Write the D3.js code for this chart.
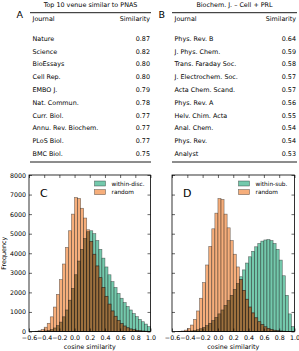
<!DOCTYPE html>
<html>
<head>
<meta charset="utf-8">
<script src="https://cdn.jsdelivr.net/npm/d3@7"></script>
<style>
  body { margin: 0; background: #fff; }
  svg { font-family: "DejaVu Sans", sans-serif; }
</style>
</head>
<body>
<svg id="chart" width="299" height="351"></svg>
<script>
// table A: venues similar to PNAS
const titleA = "Top 10 venue similar to PNAS";
const journalsA = ["Nature", "Science", "BioEssays", "Cell Rep.", "EMBO J.", "Nat. Commun.",
    "Curr. Biol.", "Annu. Rev. Biochem.", "PLoS Biol.", "BMC Biol."];
const simA = ["0.87", "0.82", "0.80", "0.80", "0.79", "0.78", "0.77", "0.77", "0.77", "0.75"];

// table B: analogy Biochem. J. - Cell + PRL
const titleB = "Biochem. J. \u2013 Cell + PRL";
const journalsB = ["Phys. Rev. B", "J. Phys. Chem.", "Trans. Faraday Soc.", "J. Electrochem. Soc.",
    "Acta Chem. Scand.", "Phys. Rev. A", "Helv. Chim. Acta", "Anal. Chem.", "Phys. Rev.", "Analyst"];
const simB = ["0.64", "0.59", "0.58", "0.57", "0.57", "0.56", "0.55", "0.54", "0.54", "0.53"];

// histogram bins (lower edges, width 0.04)
const binEdges = [-0.60, -0.56, -0.52, -0.48, -0.44, -0.40, -0.36, -0.32, -0.28, -0.24,
    -0.20, -0.16, -0.12, -0.08, -0.04, 0.00, 0.04, 0.08, 0.12, 0.16,
    0.20, 0.24, 0.28, 0.32, 0.36, 0.40, 0.44, 0.48, 0.52, 0.56,
    0.60, 0.64, 0.68, 0.72, 0.76, 0.80, 0.84, 0.88, 0.92, 0.96];
const binWidth = 0.04;

// panel C
const withinC = [0, 0, 2, 5, 10, 25, 50, 100, 180, 300,
    480, 750, 1100, 1600, 2200, 2900, 3600, 4200, 4750, 5100,
    5150, 5000, 4650, 4200, 3750, 3300, 2900, 2550, 2250, 1950,
    1700, 1480, 1280, 1100, 920, 760, 620, 500, 380, 250];
const randomC = [0, 5, 15, 40, 100, 220, 420, 750, 1250, 1900,
    2650, 3450, 4300, 5150, 6000, 6850, 6800, 6300, 5800, 5200,
    4600, 3950, 3350, 2750, 2250, 1800, 1400, 1050, 780, 560,
    400, 280, 190, 130, 90, 60, 40, 25, 15, 8];

// panel D
const withinD = [0, 0, 1, 3, 8, 15, 30, 55, 90, 140,
    210, 300, 420, 560, 720, 900, 1100, 1330, 1580, 1850,
    2150, 2450, 2800, 3150, 3500, 3820, 4100, 4330, 4500, 4620,
    4680, 4700, 4650, 4500, 4200, 3650, 2850, 1850, 900, 250];
const randomD = [0, 2, 8, 25, 70, 160, 330, 620, 1050, 1700,
    2500, 3400, 4350, 5250, 6050, 6800, 6750, 6000, 5300, 4650,
    3950, 3300, 2650, 2100, 1650, 1250, 950, 700, 500, 350,
    240, 160, 100, 65, 40, 25, 15, 8, 4, 2];

const xTicks = [-0.6, -0.4, -0.2, 0.0, 0.2, 0.4, 0.6, 0.8, 1.0];
const yTicks = [0, 1000, 2000, 3000, 4000, 5000, 6000, 7000, 8000];

const greenColor = "#5cbf9d";
const orangeColor = "#f4a064";
const overlapColor = "#6e4d1e"; // where the two translucent series stack

const svg = d3.select("#chart");

function drawTable(x0, x1, letter, title, journals, sims) {
    let g = svg.append("g");
    let y = d3.scalePoint().domain(journals).range([38.5, 153.7]);
    let fs = 6.4;

    g.append("text")
        .attr("x", (x0 + x1) / 2).attr("y", 4.8)
        .attr("dy", "0.35em")
        .attr("text-anchor", "middle")
        .attr("font-size", fs)
        .text(title);

    g.append("text")
        .attr("x", x0 - 13.5).attr("y", 15)
        .attr("dy", "0.35em")
        .attr("font-size", 9.5)
        .text(letter);

    g.append("line")
        .attr("x1", x0).attr("x2", x1)
        .attr("y1", 12.7).attr("y2", 12.7)
        .attr("stroke", "#000").attr("stroke-width", 0.9);

    g.append("text")
        .attr("x", x0 + 2.5).attr("y", 18.6)
        .attr("dy", "0.35em").attr("font-size", fs)
        .text("Journal");
    g.append("text")
        .attr("x", x1 - 1).attr("y", 18.6)
        .attr("dy", "0.35em").attr("font-size", fs)
        .attr("text-anchor", "end")
        .text("Similarity");

    g.selectAll("text.jn")
        .data(journals)
        .join("text")
        .attr("class", "jn")
        .attr("x", x0 + 2.5)
        .attr("y", d => y(d))
        .attr("dy", "0.35em")
        .attr("font-size", fs)
        .text(d => d);

    g.selectAll("text.sv")
        .data(sims)
        .join("text")
        .attr("class", "sv")
        .attr("x", x1 - 1)
        .attr("y", (d, i) => y(journals[i]))
        .attr("dy", "0.35em")
        .attr("font-size", fs)
        .attr("text-anchor", "end")
        .text(d => d);

    g.append("line")
        .attr("x1", x0).attr("x2", x1)
        .attr("y1", 162).attr("y2", 162)
        .attr("stroke", "#000").attr("stroke-width", 0.9);
}

drawTable(30, 151, "A", titleA, journalsA, simA);
drawTable(172, 297, "B", titleB, journalsB, simB);

function drawHist(left, right, letter, within, random, withinLabel, showYLabels) {
    let top = 175, bottom = 331.5;
    let x = d3.scaleLinear().domain([-0.6, 1.0]).range([left, right]);
    let y = d3.scaleLinear().domain([0, 8000]).range([bottom, top]);
    let g = svg.append("g");

    let overlap = within.map((v, i) => Math.min(v, random[i]));
    let series = [
        {values: within, color: greenColor, opacity: 0.85},
        {values: random, color: orangeColor, opacity: 0.85},
        {values: overlap, color: overlapColor, opacity: 0.6}
    ];
    series.forEach(function (s) {
        g.append("g")
            .selectAll("rect")
            .data(binEdges)
            .join("rect")
            .attr("x", d => x(d))
            .attr("width", d => x(d + binWidth) - x(d))
            .attr("y", (d, i) => y(s.values[i]))
            .attr("height", (d, i) => y(0) - y(s.values[i]))
            .attr("fill", s.color)
            .attr("fill-opacity", s.opacity)
            .attr("stroke", "#1a1a1a")
            .attr("stroke-opacity", 0.6)
            .attr("stroke-width", 0.6);
    });

    // axes with inward ticks on all sides
    let axB = g.append("g").attr("transform", `translate(0,${bottom})`)
        .call(d3.axisBottom(x).tickValues(xTicks).tickSize(-3).tickPadding(4)
            .tickFormat(d => d3.format(".1f")(d).replace("-", "\u2212")));
    let axT = g.append("g").attr("transform", `translate(0,${top})`)
        .call(d3.axisTop(x).tickValues(xTicks).tickSize(-3).tickFormat(""));
    let axL = g.append("g").attr("transform", `translate(${left},0)`)
        .call(d3.axisLeft(y).tickValues(yTicks).tickSize(-3).tickPadding(3)
            .tickFormat(showYLabels ? d3.format("d") : ""));
    let axR = g.append("g").attr("transform", `translate(${right},0)`)
        .call(d3.axisRight(y).tickValues(yTicks).tickSize(-3).tickFormat(""));

    [axB, axT, axL, axR].forEach(function (a) {
        a.select(".domain").remove();
        a.selectAll("line").attr("stroke", "#000").attr("stroke-width", 0.6);
        a.selectAll("text").attr("font-size", 6.3).attr("fill", "#000")
            .attr("font-family", "DejaVu Sans");
    });

    g.append("rect")
        .attr("x", left).attr("y", top)
        .attr("width", right - left).attr("height", bottom - top)
        .attr("fill", "none").attr("stroke", "#000").attr("stroke-width", 0.8);

    g.append("text")
        .attr("x", left + 11).attr("y", 193)
        .attr("dy", "0.35em")
        .attr("font-size", 11)
        .text(letter);

    // legend
    let legend = g.append("g");
    [[withinLabel, greenColor], ["random", orangeColor]].forEach(function (item, i) {
        legend.append("rect")
            .attr("x", right - 56).attr("y", 181 + i * 8.6)
            .attr("width", 11).attr("height", 5)
            .attr("fill", item[1]).attr("fill-opacity", 0.85)
            .attr("stroke", "#1a1a1a").attr("stroke-opacity", 0.6).attr("stroke-width", 0.6);
        legend.append("text")
            .attr("x", right - 39).attr("y", 183.5 + i * 8.6)
            .attr("dy", "0.35em")
            .attr("font-size", 5.8)
            .text(item[0]);
    });

    g.append("text")
        .attr("x", (left + right) / 2).attr("y", 346.5)
        .attr("dy", "0.35em")
        .attr("text-anchor", "middle")
        .attr("font-size", 6.4)
        .text("cosine similarity");

    if (showYLabels) {
        g.append("text")
            .attr("transform", `translate(3.5,${(top + bottom) / 2}) rotate(-90)`)
            .attr("dy", "0.35em")
            .attr("text-anchor", "middle")
            .attr("font-size", 6.4)
            .text("Frequency");
    }
}

drawHist(29, 150.5, "C", withinC, randomC, "within-disc.", true);
drawHist(172, 294.5, "D", withinD, randomD, "within-sub.", false);
</script>
</body>
</html>
